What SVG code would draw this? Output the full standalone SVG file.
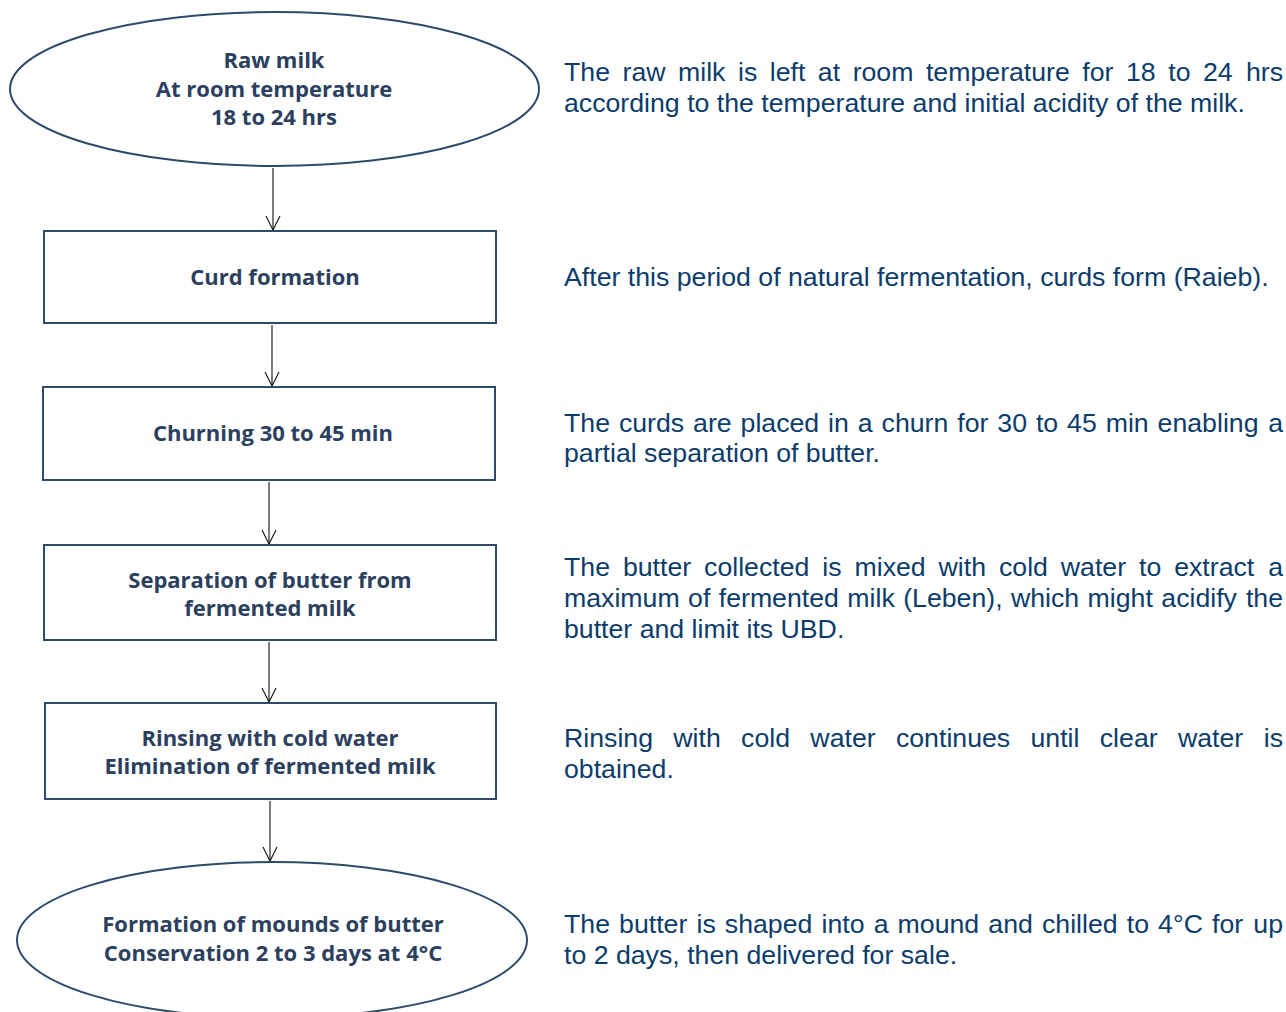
<svg xmlns="http://www.w3.org/2000/svg" width="1286" height="1012" viewBox="0 0 1286 1012">
  <style>
    .shape { fill: #ffffff; stroke: #2e4a6b; stroke-width: 2; }
    .label { font-family: "Open Sans", "Noto Sans", sans-serif; font-weight: 700; font-size: 22px; fill: #2b405e; text-anchor: middle; }
    .note { font-family: "Liberation Sans", Arial, sans-serif; font-size: 26.7px; fill: #0b3c6b; }
    .end { text-anchor: end; }
    .link { stroke: #111111; stroke-width: 1.1; fill: none; marker-end: url(#vhead); }
  </style>
  <defs>
    <!-- open V arrowhead, drawn along +x so orient="auto" turns it with the line -->
    <marker id="vhead" viewBox="0 0 16 16" refX="15" refY="8" markerWidth="16" markerHeight="16" markerUnits="userSpaceOnUse" orient="auto">
      <path d="M1,1 L15,8 L1,15" fill="none" stroke="#111111" stroke-width="1.1"/>
    </marker>
  </defs>
  <rect width="1286" height="1012" fill="#ffffff"/>

  <!-- connectors -->
  <g id="connectors">
    <path class="link" d="M273,168 V230"/>
    <path class="link" d="M272,325 V386"/>
    <path class="link" d="M269,482 V544"/>
    <path class="link" d="M269,642 V702"/>
    <path class="link" d="M270,801 V861"/>
  </g>

  <!-- process steps -->
  <g id="raw-milk">
    <ellipse class="shape" cx="274.5" cy="89" rx="264.5" ry="77"/>
    <text class="label" x="274" y="68">Raw milk</text>
    <text class="label" x="274" y="97">At room temperature</text>
    <text class="label" x="274" y="125">18 to 24 hrs</text>
  </g>
  <g id="curd-formation">
    <rect class="shape" x="44" y="231" width="452" height="92"/>
    <text class="label" x="275" y="285">Curd formation</text>
  </g>
  <g id="churning">
    <rect class="shape" x="43" y="387" width="452" height="93"/>
    <text class="label" x="273" y="441">Churning 30 to 45 min</text>
  </g>
  <g id="separation">
    <rect class="shape" x="44" y="545" width="452" height="95"/>
    <text class="label" x="270" y="588">Separation of butter from</text>
    <text class="label" x="270" y="616">fermented milk</text>
  </g>
  <g id="rinsing">
    <rect class="shape" x="45" y="703" width="451" height="96"/>
    <text class="label" x="270" y="746">Rinsing with cold water</text>
    <text class="label" x="270" y="774">Elimination of fermented milk</text>
  </g>
  <g id="mounds">
    <ellipse class="shape" cx="272" cy="940" rx="255" ry="78"/>
    <text class="label" x="273" y="932">Formation of mounds of butter</text>
    <text class="label" x="273" y="961">Conservation 2 to 3 days at 4°C</text>
  </g>

  <!-- descriptions; justified lines spread with word-spacing, last word set flush right -->
  <g id="notes">
    <text class="note" y="81"><tspan x="564" word-spacing="5.1">The raw milk is left at room temperature for 18 to 24</tspan><tspan class="end" x="1283">hrs</tspan></text>
    <text class="note" x="564" y="112">according to the temperature and initial acidity of the milk.</text>

    <text class="note" x="564" y="286">After this period of natural fermentation, curds form (Raieb).</text>

    <text class="note" y="432"><tspan x="564" word-spacing="1.5">The curds are placed in a churn for 30 to 45 min enabling</tspan><tspan class="end" x="1283">a</tspan></text>
    <text class="note" x="564" y="462">partial separation of butter.</text>

    <text class="note" y="576"><tspan x="564" word-spacing="5.5">The butter collected is mixed with cold water to extract</tspan><tspan class="end" x="1283">a</tspan></text>
    <text class="note" y="607"><tspan x="564" word-spacing="1">maximum of fermented milk (Leben), which might acidify</tspan><tspan class="end" x="1283">the</tspan></text>
    <text class="note" x="564" y="638">butter and limit its UBD.</text>

    <text class="note" y="747"><tspan x="564" word-spacing="12.9">Rinsing with cold water continues until clear water</tspan><tspan class="end" x="1283">is</tspan></text>
    <text class="note" x="564" y="778">obtained.</text>

    <text class="note" y="933"><tspan x="564" word-spacing="1.7">The butter is shaped into a mound and chilled to 4°C for</tspan><tspan class="end" x="1283">up</tspan></text>
    <text class="note" x="564" y="964">to 2 days, then delivered for sale.</text>
  </g>
</svg>
